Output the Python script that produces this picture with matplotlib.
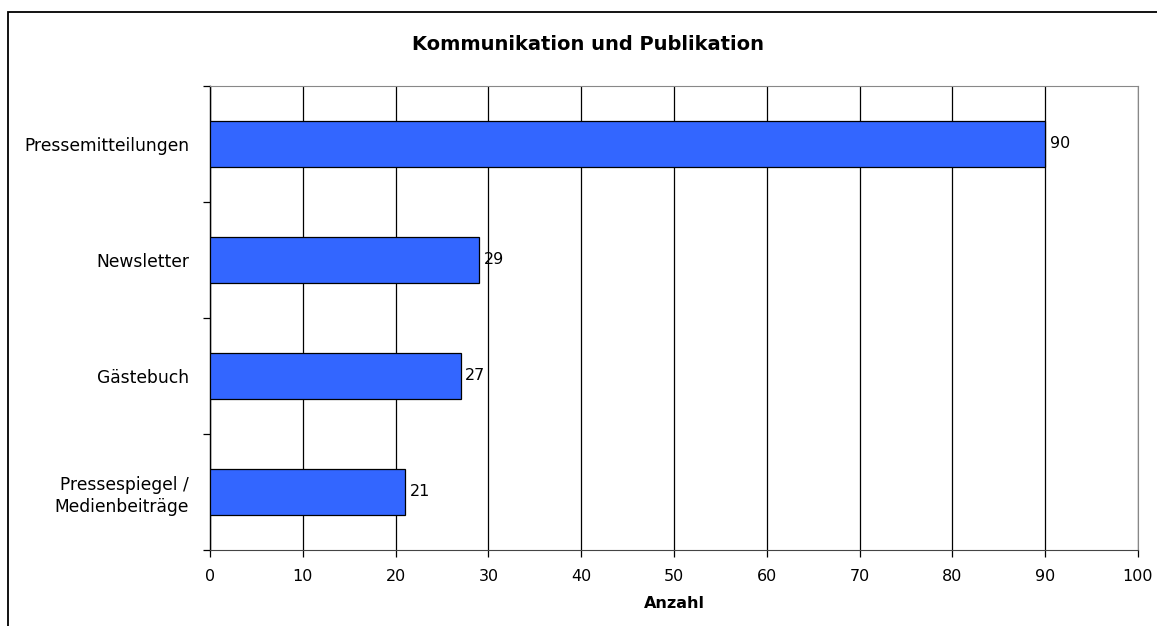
import matplotlib
matplotlib.use("Agg")
import matplotlib.pyplot as plt
from matplotlib.patches import Rectangle
import numpy as np

plt.rcParams["font.family"] = ["DejaVu Sans"]

categories = ["Pressespiegel /\nMedienbeiträge", "Gästebuch", "Newsletter",
              "Pressemitteilungen"]
values = [21, 27, 29, 90]
xticks = list(range(0, 101, 10))

BAR = "#3366FF"

fig = plt.figure(figsize=(11.57, 6.26), dpi=100)
ax = fig.add_axes([210 / 1157, 1 - 550 / 626, 928 / 1157, 464 / 626])

y = np.arange(len(categories))
ax.barh(y, values, height=0.4, color=BAR, edgecolor="black", lw=0.9,
        zorder=3)
for yi, v in zip(y, values):
    ax.text(v + 0.5, yi, str(v), va="center", ha="left", fontsize=11.5)

ax.set_xlim(0, 100)
ax.set_ylim(-0.5, len(categories) - 0.5)
ax.set_xticks(xticks)
ax.set_xticklabels([str(t) for t in xticks], fontsize=11.5)
ax.set_yticks(y)
ax.set_yticklabels(categories, fontsize=12.3, linespacing=1.3)
ax.tick_params(axis="y", length=0, pad=15)
ax.set_yticks(np.arange(-0.5, len(categories)), minor=True)
ax.tick_params(axis="y", which="minor", length=5, width=0.9)
ax.tick_params(axis="x", length=5, width=0.9, pad=9)
ax.grid(axis="x", color="black", lw=0.9, zorder=1)
for s in ("top", "right"):
    ax.spines[s].set_color("#888888")
ax.spines["left"].set_lw(1.0)
ax.spines["bottom"].set_color("#444444")
ax.set_xlabel("Anzahl", fontsize=11.5, fontweight="bold", labelpad=8)

fig.text(588 / 1157, 1 - 44 / 626, "Kommunikation und Publikation",
         ha="center", va="center", fontsize=14, fontweight="bold")

# chart frame, running off the right and bottom edge
fig.patches.append(Rectangle((8 / 1157, -0.1), 1.2, 1 - 12 / 626 + 0.1,
                             transform=fig.transFigure, fill=False,
                             ec="black", lw=1.3))

fig.savefig("out.png", dpi=100)
